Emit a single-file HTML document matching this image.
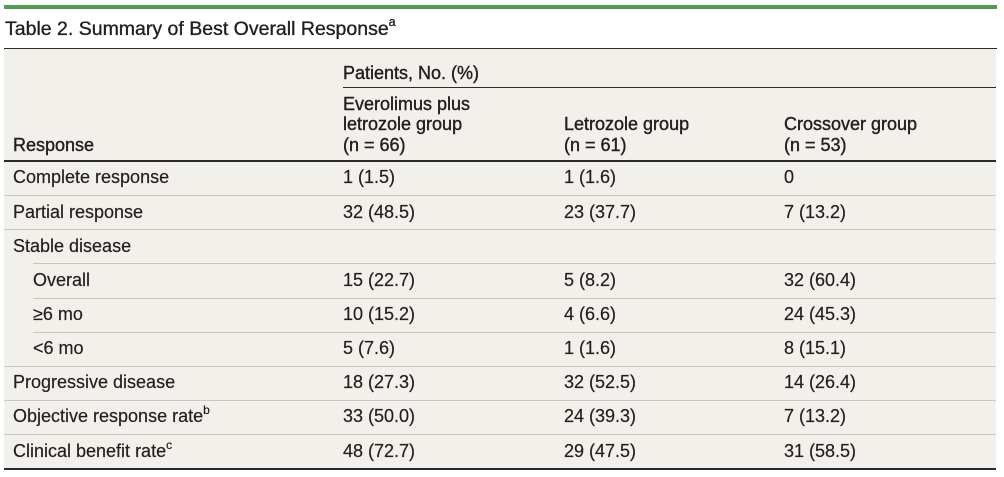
<!DOCTYPE html>
<html>
<head>
<meta charset="utf-8">
<style>
html,body{margin:0;padding:0;background:#fff;}
body{width:1004px;height:477px;position:relative;overflow:hidden;font-family:"Liberation Sans",Arial,sans-serif;color:#231f20;}
.a{position:absolute;white-space:nowrap;}
.t{font-size:18px;line-height:20px;-webkit-text-stroke:0.2px #231f20;}
.h{font-size:18px;line-height:20.5px;-webkit-text-stroke:0.4px #231f20;}
.ln{position:absolute;height:1px;background:#c9c6bf;}
sup{font-size:12px;line-height:0;position:relative;top:-1px;vertical-align:super;}
</style>
</head>
<body>
<div class="a" style="left:4px;top:5px;width:993px;height:3.5px;background:#4f9b52;"></div>
<div class="a" style="left:5px;top:17.5px;font-size:19.5px;line-height:22px;-webkit-text-stroke:0.35px #231f20;">Table 2. Summary of Best Overall Response<sup style="font-size:12.5px;">a</sup></div>

<div class="a" style="left:4px;top:48px;width:992px;height:420px;background:#f2f0ea;"></div>
<div class="a" style="left:4px;top:47.5px;width:993px;height:1.5px;background:#2b2b2b;"></div>
<div class="a" style="left:343px;top:86.5px;width:653px;height:1.3px;background:#2b2b2b;"></div>
<div class="a" style="left:4px;top:160.3px;width:992px;height:1.7px;background:#2b2b2b;"></div>
<div class="a" style="left:4px;top:467.5px;width:992px;height:2px;background:#2b2b2b;"></div>

<div class="ln" style="left:4px;width:992px;top:195px;"></div>
<div class="ln" style="left:4px;width:992px;top:229px;"></div>
<div class="ln" style="left:33px;width:963px;top:263px;"></div>
<div class="ln" style="left:33px;width:963px;top:297.5px;"></div>
<div class="ln" style="left:33px;width:963px;top:331.5px;"></div>
<div class="ln" style="left:4px;width:992px;top:366px;"></div>
<div class="ln" style="left:4px;width:992px;top:400px;"></div>
<div class="ln" style="left:4px;width:992px;top:434px;"></div>

<div class="a h" style="left:343px;top:62.5px;">Patients, No. (%)</div>
<div class="a h" style="left:13px;top:134.5px;">Response</div>
<div class="a h" style="left:343px;top:93.5px;">Everolimus plus<br>letrozole group<br>(n = 66)</div>
<div class="a h" style="left:564px;top:114px;">Letrozole group<br>(n = 61)</div>
<div class="a h" style="left:784px;top:114px;">Crossover group<br>(n = 53)</div>

<div class="a t" style="left:13px;top:167px;">Complete response</div>
<div class="a t" style="left:343px;top:167px;">1 (1.5)</div>
<div class="a t" style="left:564px;top:167px;">1 (1.6)</div>
<div class="a t" style="left:784px;top:167px;">0</div>

<div class="a t" style="left:13px;top:201.5px;">Partial response</div>
<div class="a t" style="left:343px;top:201.5px;">32 (48.5)</div>
<div class="a t" style="left:564px;top:201.5px;">23 (37.7)</div>
<div class="a t" style="left:784px;top:201.5px;">7 (13.2)</div>

<div class="a t" style="left:13px;top:235.5px;">Stable disease</div>

<div class="a t" style="left:33px;top:269.5px;">Overall</div>
<div class="a t" style="left:343px;top:269.5px;">15 (22.7)</div>
<div class="a t" style="left:564px;top:269.5px;">5 (8.2)</div>
<div class="a t" style="left:784px;top:269.5px;">32 (60.4)</div>

<div class="a t" style="left:33px;top:303.5px;">≥6 mo</div>
<div class="a t" style="left:343px;top:303.5px;">10 (15.2)</div>
<div class="a t" style="left:564px;top:303.5px;">4 (6.6)</div>
<div class="a t" style="left:784px;top:303.5px;">24 (45.3)</div>

<div class="a t" style="left:33px;top:337.5px;">&lt;6 mo</div>
<div class="a t" style="left:343px;top:337.5px;">5 (7.6)</div>
<div class="a t" style="left:564px;top:337.5px;">1 (1.6)</div>
<div class="a t" style="left:784px;top:337.5px;">8 (15.1)</div>

<div class="a t" style="left:13px;top:372px;">Progressive disease</div>
<div class="a t" style="left:343px;top:372px;">18 (27.3)</div>
<div class="a t" style="left:564px;top:372px;">32 (52.5)</div>
<div class="a t" style="left:784px;top:372px;">14 (26.4)</div>

<div class="a t" style="left:13px;top:406px;">Objective response rate<sup>b</sup></div>
<div class="a t" style="left:343px;top:406px;">33 (50.0)</div>
<div class="a t" style="left:564px;top:406px;">24 (39.3)</div>
<div class="a t" style="left:784px;top:406px;">7 (13.2)</div>

<div class="a t" style="left:13px;top:440.5px;">Clinical benefit rate<sup>c</sup></div>
<div class="a t" style="left:343px;top:440.5px;">48 (72.7)</div>
<div class="a t" style="left:564px;top:440.5px;">29 (47.5)</div>
<div class="a t" style="left:784px;top:440.5px;">31 (58.5)</div>
</body>
</html>
